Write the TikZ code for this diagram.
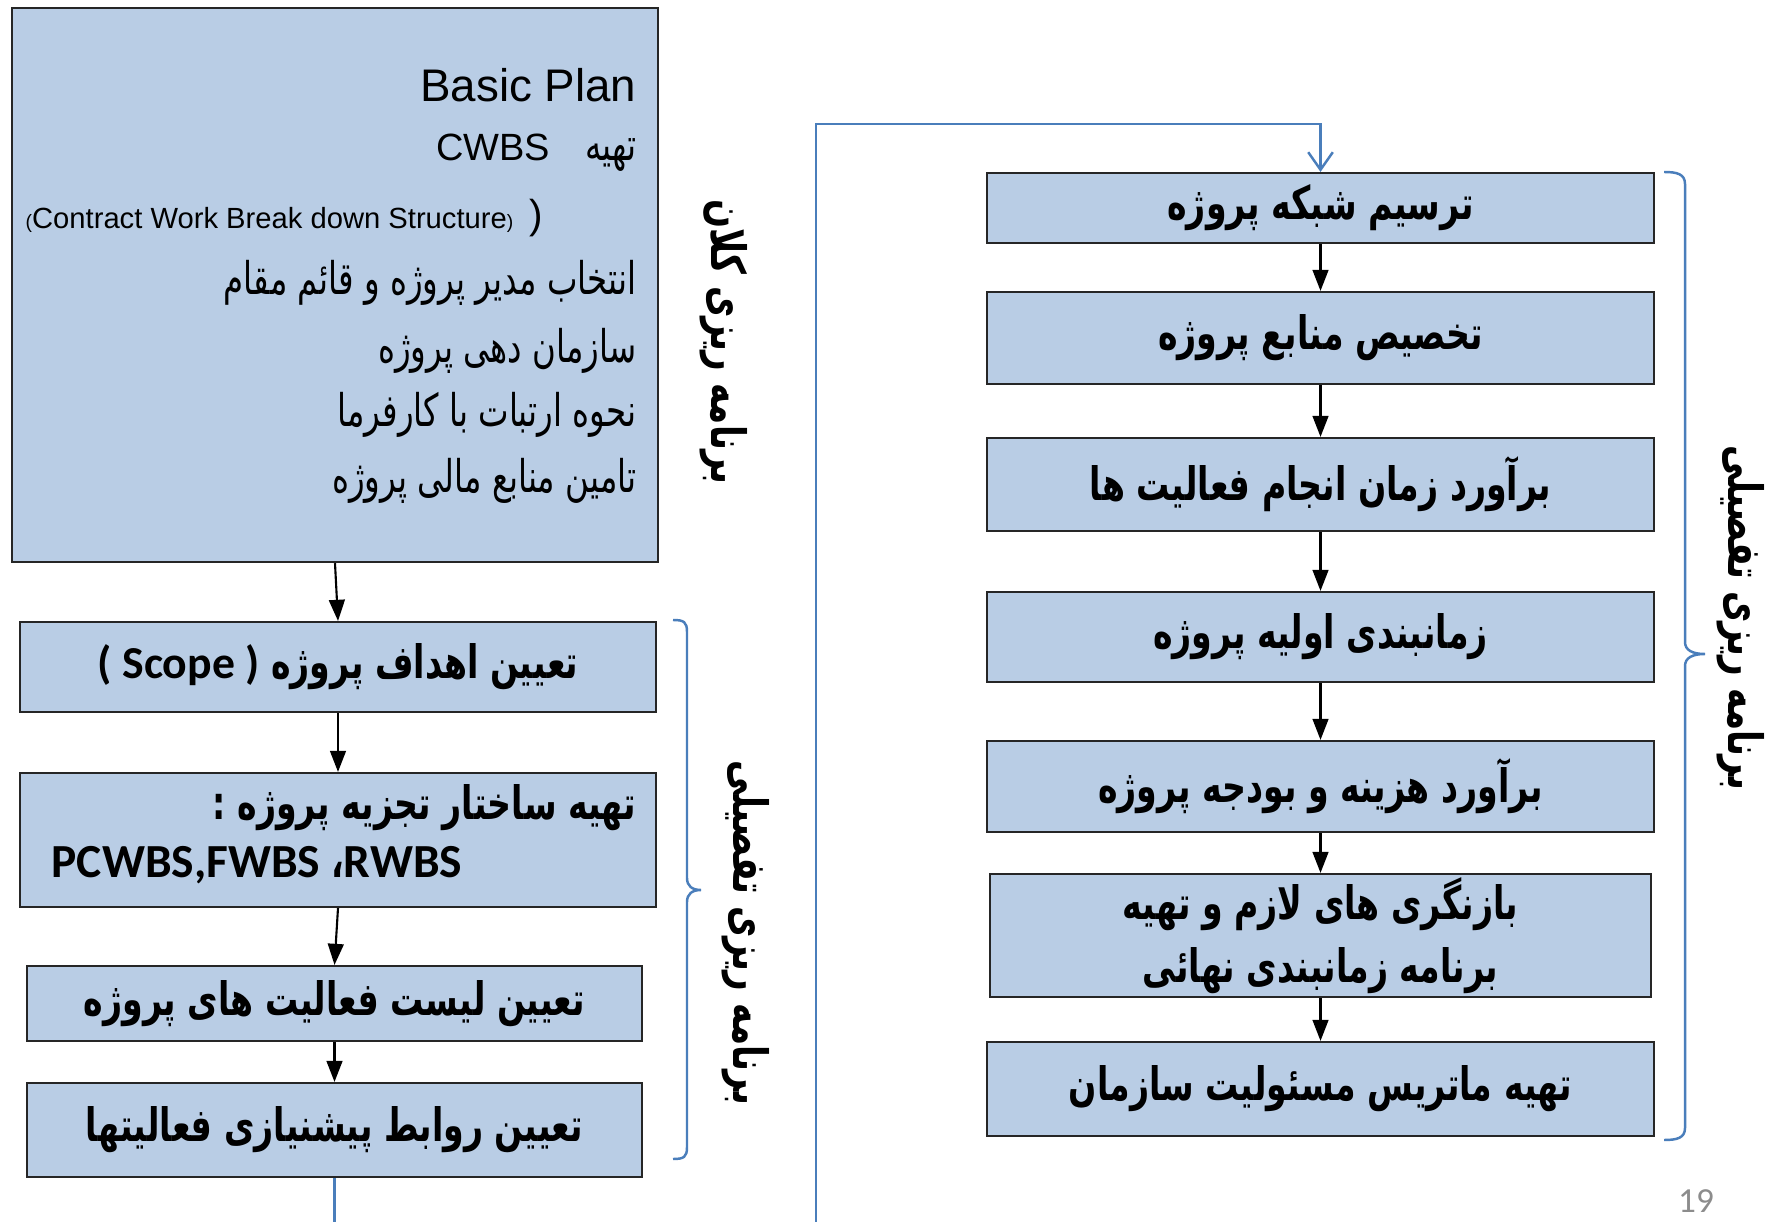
\documentclass[tikz,border=0pt]{standalone}
\usepackage{fontspec}
\setmainfont{Liberation Sans}
\newfontfamily\fa[Script=Arabic,FakeStretch=0.72]{DejaVu Sans}
\newfontfamily\calfont{Carlito}
\TeXXeTstate=1
\usetikzlibrary{arrows.meta}
\definecolor{boxfill}{HTML}{B9CDE5}
\definecolor{bluel}{HTML}{4A7EBB}
\newcommand\bxf{\fa\bfseries\fontsize{13.1}{16}\selectfont}
\newcommand\bgf{\fa\fontsize{12.8}{15}\selectfont}
\begin{document}
\begin{tikzpicture}[x=0.01cm,y=-0.01cm,
  box/.style={draw=black!85, line width=0.6pt, fill=boxfill, rectangle, inner sep=0pt},
  arr/.style={-{Triangle[length=6pt,width=4.5pt]}, line width=0.6pt, black},
  bl/.style={bluel, line width=0.7pt},
  vlab/.style={rotate=-90, font=\fa\bfseries\fontsize{13.5}{16}\selectfont, inner sep=0pt},
  bgt/.style={anchor=east, inner sep=0pt, font=\bgf},
  bxt/.style={font=\bxf, inner sep=0pt}]
\useasboundingbox (0,0) rectangle (1773,1222);
\fill[white] (0,0) rectangle (1773,1222);

% big box
\node[box, minimum width=6.46cm, minimum height=5.54cm] (big) at (335,285) {};
\node[anchor=east, inner sep=0pt, font=\fontsize{13}{15}\selectfont] (bp) at (637,85) {Basic Plan};
\node[anchor=east, inner sep=0pt] (cw) at (637,153) {{\fontsize{10.8}{12}\selectfont CWBS}\quad{\bgf\beginR تهیه\endR}};
\node[anchor=west, inner sep=0pt, font=\fontsize{8.3}{10}\selectfont] (cs) at (25,218) {{\fontsize{5.5}{7}\selectfont(}Contract Work Break down Structure{\fontsize{5.5}{7}\selectfont)}\ \ {\fontsize{11.5}{13}\selectfont)}};
\node[bgt] (g1) at (637,283) {\beginR انتخاب مدیر پروژه و قائم مقام\endR};
\node[bgt] (g2) at (637,351) {\beginR سازمان دهی پروژه\endR};
\node[bgt] (g3) at (637,415) {\beginR نحوه ارتبات با کارفرما\endR};
\node[bgt] (g4) at (637,481) {\beginR تامین منابع مالی پروژه\endR};

% left column
\node[box, minimum width=6.36cm, minimum height=0.90cm] (S1) at (338,667) {};
\node[bxt] (t1) at (S1.center) {\hbox{\calfont\bfseries\fontsize{13}{16}\selectfont ( Scope )}\ \hbox{\beginR تعیین اهداف پروژه\endR}};
\node[box, minimum width=6.36cm, minimum height=1.34cm] (S2) at (338,840) {};
\node[bxt, anchor=east] (t2a) at (637,808) {\beginR تهیه ساختار تجزیه پروژه :\endR};
\node[anchor=west, inner sep=0pt] (t2b) at (51,865) {{\calfont\bfseries\fontsize{13.5}{16}\selectfont PCWBS,FWBS }{\bxf ،}{\calfont\bfseries\fontsize{13.5}{16}\selectfont RWBS}};
\node[box, minimum width=6.15cm, minimum height=0.75cm, font=\bxf] (S3) at (334.5,1003.5) {\beginR تعیین لیست فعالیت های پروژه\endR};
\node[box, minimum width=6.15cm, minimum height=0.94cm, font=\bxf] (S4) at (334.5,1130) {\beginR تعیین روابط پیشنیازی فعالیتها\endR};

% right column
\node[box, minimum width=6.67cm, minimum height=0.70cm, font=\bxf] (R1) at (1320.5,208) {\beginR ترسیم شبکه پروژه\endR};
\node[box, minimum width=6.67cm, minimum height=0.92cm, font=\bxf] (R2) at (1320.5,338) {\beginR تخصیص منابع پروژه\endR};
\node[box, minimum width=6.67cm, minimum height=0.93cm, font=\bxf] (R3) at (1320.5,484.5) {\beginR برآورد زمان انجام فعالیت ها\endR};
\node[box, minimum width=6.67cm, minimum height=0.90cm, font=\bxf] (R4) at (1320.5,637) {\beginR زمانبندی اولیه پروژه\endR};
\node[box, minimum width=6.67cm, minimum height=0.91cm, font=\bxf] (R5) at (1320.5,786.5) {\beginR برآورد هزینه و بودجه پروژه\endR};
\node[box, minimum width=6.61cm, minimum height=1.23cm, font=\bxf, align=center] (R6) at (1320.5,935.5) {\beginR بازنگری های لازم و تهیه\endR\\[2pt]\beginR برنامه زمانبندی نهائی\endR};
\node[box, minimum width=6.67cm, minimum height=0.94cm, font=\bxf] (R7) at (1320.5,1089) {\beginR تهیه ماتریس مسئولیت سازمان\endR};

% arrows
\draw[arr] (big.south) -- (S1.north);
\draw[arr] (S1.south) -- (S2.north);
\draw[arr] (S2.south) -- (S3.north);
\draw[arr] (S3.south) -- (S4.north);
\draw[arr] (R1.south) -- (R2.north);
\draw[arr] (R2.south) -- (R3.north);
\draw[arr] (R3.south) -- (R4.north);
\draw[arr] (R4.south) -- (R5.north);
\draw[arr] (R5.south) -- (R6.north);
\draw[arr] (R6.south) -- (R7.north);

% blue connectors
\coordinate (outB) at (334.5,1222);
\draw[bl] (S4.south) -- (outB);
\coordinate (loopB) at (816,1222);
\coordinate (loopT) at (816,124);
\draw[bl, -{Straight Barb[length=5pt,width=7pt]}] (loopB) -- (loopT) -| (R1.north);

% brackets
\draw[bl] (673,620) .. controls (684,620) and (687,622) .. (687,632) -- (687,878)
  .. controls (687,886) and (692,890) .. (701,890)
  .. controls (692,890) and (687,894) .. (687,902) -- (687,1147)
  .. controls (687,1157) and (684,1159) .. (673,1159);
\draw[bl] (1664,172) .. controls (1677,172) and (1685,174) .. (1685,184) -- (1685,642)
  .. controls (1685,650) and (1692,654) .. (1705,654)
  .. controls (1692,654) and (1685,658) .. (1685,666) -- (1685,1128)
  .. controls (1685,1138) and (1677,1140) .. (1664,1140);

% vertical labels
\node[vlab] (L1) at (724,342) {\beginR برنامه ریزی کلان\endR};
\node[vlab] (L2) at (746,933) {\beginR برنامه ریزی تفصیلی\endR};
\node[vlab] (L3) at (1741,618) {\beginR برنامه ریزی تفصیلی\endR};

\node[text=black!45, font=\calfont\fontsize{10}{12}\selectfont] (pg) at (1696,1201) {19};
\end{tikzpicture}
\end{document}
